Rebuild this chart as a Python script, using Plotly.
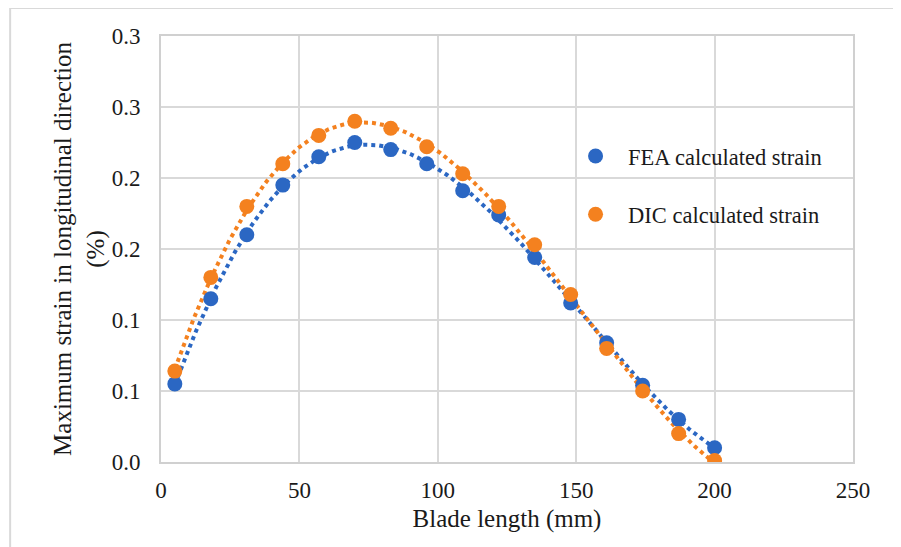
import numpy as np
import plotly.graph_objects as go

blade_length = [5, 18, 31, 44, 57, 70, 83, 96, 109, 122, 135, 148, 161, 174, 187, 200]
fea_strain = [0.055, 0.115, 0.160, 0.195, 0.215, 0.225, 0.220, 0.210, 0.191, 0.174, 0.144, 0.112, 0.084, 0.054, 0.030, 0.010]
dic_strain = [0.064, 0.130, 0.180, 0.210, 0.230, 0.240, 0.235, 0.222, 0.203, 0.180, 0.153, 0.118, 0.080, 0.050, 0.020, 0.001]
y_tickvals = [0.0, 0.05, 0.10, 0.15, 0.20, 0.25, 0.30]
y_ticktext = ["0.0", "0.1", "0.1", "0.2", "0.2", "0.3", "0.3"]
x_tickvals = [0, 50, 100, 150, 200, 250]

BLUE = "#2B67C3"
ORANGE = "#F4811F"
FONT = "Liberation Serif"
TXT = "#1a1a1a"

xf = np.linspace(min(blade_length), max(blade_length), 300)
fea_fit = np.polyval(np.polyfit(blade_length, fea_strain, 4), xf)
dic_fit = np.polyval(np.polyfit(blade_length, dic_strain, 4), xf)

fig = go.Figure()
fig.add_trace(go.Scatter(x=xf, y=fea_fit, mode="lines", showlegend=False, hoverinfo="skip",
                         line=dict(color=BLUE, width=4, dash="4px,4px")))
fig.add_trace(go.Scatter(x=xf, y=dic_fit, mode="lines", showlegend=False, hoverinfo="skip",
                         line=dict(color=ORANGE, width=4, dash="4px,4px")))
fig.add_trace(go.Scatter(x=blade_length, y=fea_strain, mode="markers", name="FEA calculated strain",
                         legendgroup="a", marker=dict(color=BLUE, size=15)))
fig.add_trace(go.Scatter(x=blade_length, y=dic_strain, mode="markers", name="DIC calculated strain",
                         legendgroup="b", marker=dict(color=ORANGE, size=15)))

fig.update_layout(
    template="none",
    width=901, height=547,
    margin=dict(l=153, r=56, t=28, b=93),
    paper_bgcolor="white", plot_bgcolor="white",
    font=dict(family=FONT, size=22, color=TXT),
    legend=dict(x=0.581, y=0.768, xanchor="left", yanchor="top", bgcolor="rgba(0,0,0,0)",
                font=dict(family=FONT, size=22.5, color=TXT), tracegroupgap=26, itemwidth=55),
    shapes=[dict(type="rect", xref="paper", yref="paper", x0=-0.218, x1=1.08, y0=-0.23, y1=1.066,
                 line=dict(color="#d9d9d9", width=2), fillcolor="rgba(0,0,0,0)", layer="below")],
)
fig.update_xaxes(range=[0, 250], tickvals=x_tickvals, showgrid=True, gridcolor="#d9d9d9", gridwidth=2,
                 showline=True, linecolor="#d0d0d0", linewidth=2, mirror=True, zeroline=False,
                 ticks="", tickfont=dict(family=FONT, size=23, color=TXT), ticklabelstandoff=6,
                 title=dict(text="Blade length (mm)", font=dict(family=FONT, size=25, color=TXT), standoff=8))
fig.update_yaxes(range=[0, 0.3], tickvals=y_tickvals, ticktext=y_ticktext, showgrid=True,
                 gridcolor="#d9d9d9", gridwidth=2, showline=True, linecolor="#d0d0d0", linewidth=2,
                 mirror=True, zeroline=False, ticks="", tickfont=dict(family=FONT, size=23, color=TXT),
                 ticklabelstandoff=14,
                 title=dict(text="Maximum strain in longitudinal direction<br>(%)",
                            font=dict(family=FONT, size=25, color=TXT), standoff=0))

fig.write_html("out.html")
